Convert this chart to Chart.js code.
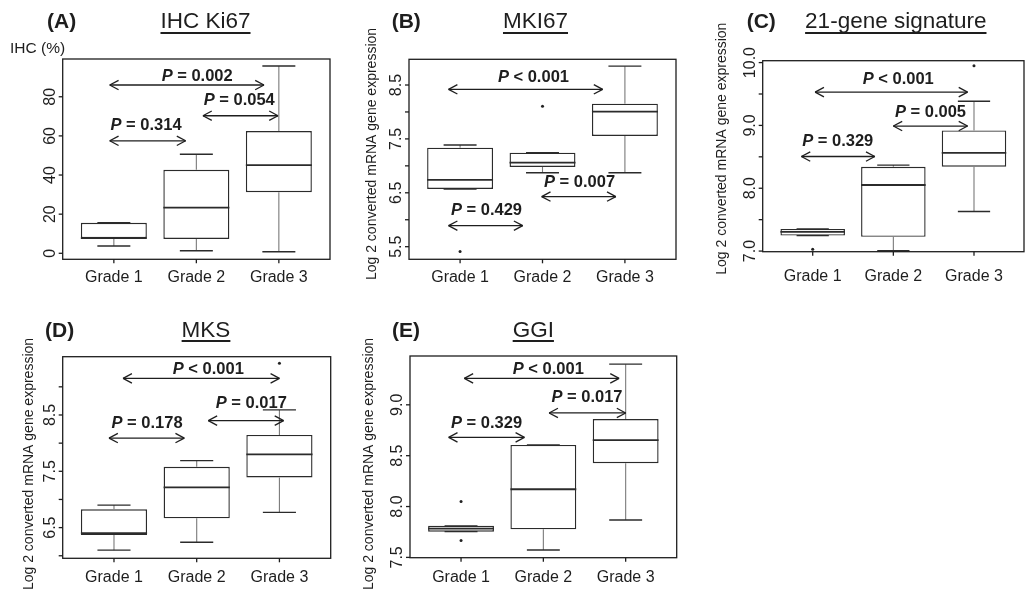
<!DOCTYPE html>
<html>
<head>
<meta charset="utf-8">
<script src="https://cdn.jsdelivr.net/npm/chart.js@4/dist/chart.umd.min.js"></script>
<style>
  html, body { margin: 0; padding: 0; background: #fff; width: 1028px; height: 591px; overflow: hidden; }
  canvas { position: absolute; }
</style>
</head>
<body>
<canvas id="panelA"></canvas>
<canvas id="panelB"></canvas>
<canvas id="panelC"></canvas>
<canvas id="panelD"></canvas>
<canvas id="panelE"></canvas>
<script>
// categories
const gradeLabels = ['Grade 1', 'Grade 2', 'Grade 3'];
const gradePos = [1, 2, 3];

// (A) IHC Ki67 (%)
const ki67Min = [3.7, 1.3, 0.8];
const ki67Q1  = [7.8, 7.3, 31.2];
const ki67Med = [7.8, 23.3, 45.1];
const ki67Q3  = [15.6, 42.7, 62.5];
const ki67Max = [15.6, 50.6, 95.7];
const ki67OutX = [];
const ki67OutY = [];
const ki67Ticks = [0, 20, 40, 60, 80];
const ki67TickText = ['0', '20', '40', '60', '80'];
const ki67P = ['= 0.002', '= 0.054', '= 0.314'];

// (B) MKI67
const mki67Min = [6.57, 6.873, 6.873];
const mki67Q1  = [6.57, 6.98, 7.554];
const mki67Med = [6.74, 7.06, 8.005];
const mki67Q3  = [7.337, 7.244, 8.153];
const mki67Max = [7.387, 7.244, 8.85];
const mki67OutX = [1, 2];
const mki67OutY = [5.41, 8.105];
const mki67Ticks = [5.5, 6, 6.5, 7, 7.5, 8, 8.5];
const mki67TickText = ['5.5', '', '6.5', '', '7.5', '', '8.5'];
const mki67P = ['< 0.001', '= 0.007', '= 0.429'];

// (C) 21-gene signature
const sigMin = [7.246, 7.005, 7.63];
const sigQ1  = [7.246, 7.226, 8.342];
const sigMed = [7.305, 8.052, 8.562];
const sigQ3  = [7.352, 8.342, 8.92];
const sigMax = [7.352, 8.368, 9.384];
const sigOutX = [1, 3];
const sigOutY = [7.03, 9.948];
const sigTicks = [7, 7.5, 8, 8.5, 9, 9.5, 10];
const sigTickText = ['7.0', '', '8.0', '', '9.0', '', '10.0'];
const sigP = ['< 0.001', '= 0.005', '= 0.329'];

// (D) MKS
const mksMin = [6.10, 6.24, 6.77];
const mksQ1  = [6.37, 6.665, 7.39];
const mksMed = [6.40, 7.215, 7.80];
const mksQ3  = [6.825, 7.58, 8.145];
const mksMax = [6.90, 7.69, 8.59];
const mksOutX = [3];
const mksOutY = [9.42];
const mksTicks = [6, 6.5, 7, 7.5, 8, 8.5, 9];
const mksTickText = ['', '6.5', '', '7.5', '', '8.5', ''];
const mksP = ['< 0.001', '= 0.017', '= 0.178'];

// (E) GGI
const ggiMin = [7.753, 7.573, 7.868];
const ggiQ1  = [7.753, 7.776, 8.426];
const ggiMed = [7.783, 8.17, 8.653];
const ggiQ3  = [7.81, 8.606, 8.86];
const ggiMax = [7.81, 8.606, 9.40];
const ggiOutX = [1, 1];
const ggiOutY = [8.05, 7.665];
const ggiTicks = [7.5, 8, 8.5, 9];
const ggiTickText = ['7.5', '8.0', '8.5', '9.0'];
const ggiP = ['< 0.001', '= 0.017', '= 0.329'];

const FONT = '"Liberation Sans", Arial, sans-serif';
const INK = '#1e1e1e';

// layout of each panel: canvas box and plot frame in page pixels, comparison arrows in data units
const panels = {
  panelA: {
    min: ki67Min, q1: ki67Q1, med: ki67Med, q3: ki67Q3, max: ki67Max, outX: ki67OutX, outY: ki67OutY,
    ticks: ki67Ticks, tickText: ki67TickText, p: ki67P,
    yMin: -3.07, yMax: 99.3,
    box: [0, 0, 345, 296], frame: [62.7, 59, 330, 259.3], xLabelGap: 23,
    arrows: [[0.95, 2.82, 86.0], [2.08, 2.99, 70.3], [0.95, 1.87, 57.5]],
    pPos: [[2.01, 90.2], [2.52, 78.3], [1.39, 65.5]],
    tag: '(A)', tagX: 47, title: 'IHC Ki67', titleX: 205.5, titleY: 28, lineY: 33,
    yTitle: 'IHC (%)', yTitleFlat: true, yTitleX: 10, yTitleY: 49
  },
  panelB: {
    min: mki67Min, q1: mki67Q1, med: mki67Med, q3: mki67Q3, max: mki67Max, outX: mki67OutX, outY: mki67OutY,
    ticks: mki67Ticks, tickText: mki67TickText, p: mki67P,
    yMin: 5.266, yMax: 8.977,
    box: [345, 0, 345, 296], frame: [409, 59.3, 676, 259.3], xLabelGap: 23,
    arrows: [[0.86, 2.73, 8.42], [1.99, 2.89, 6.43], [0.86, 1.76, 5.89]],
    pPos: [[1.89, 8.64], [2.45, 6.69], [1.32, 6.18]],
    tag: '(B)', tagX: 391.7, title: 'MKI67', titleX: 535.5, titleY: 28, lineY: 33,
    yTitle: 'Log 2 converted mRNA gene expression', yTitleX: 372.5, yTitleY: 154
  },
  panelC: {
    min: sigMin, q1: sigQ1, med: sigMed, q3: sigQ3, max: sigMax, outX: sigOutX, outY: sigOutY,
    ticks: sigTicks, tickText: sigTickText, p: sigP,
    yMin: 6.99, yMax: 10.03,
    box: [690, 0, 338, 296], frame: [762.7, 60.7, 1026.5, 251.7], xLabelGap: 29,
    arrows: [[1.03, 2.92, 9.53], [2.0, 2.92, 8.99], [0.86, 1.77, 8.505]],
    pPos: [[2.06, 9.73], [2.46, 9.2], [1.31, 8.75]],
    tag: '(C)', tagX: 746.7, title: '21-gene signature', titleX: 895.8, titleY: 28, lineY: 33,
    yTitle: 'Log 2 converted mRNA gene expression', yTitleX: 722.5, yTitleY: 148.7
  },
  panelD: {
    min: mksMin, q1: mksQ1, med: mksMed, q3: mksQ3, max: mksMax, outX: mksOutX, outY: mksOutY,
    ticks: mksTicks, tickText: mksTickText, p: mksP,
    yMin: 5.955, yMax: 9.535,
    box: [0, 296, 345, 295], frame: [62.7, 356.7, 330.7, 558.3], xLabelGap: 23.5,
    arrows: [[1.11, 3.0, 9.15], [2.14, 3.05, 8.40], [0.94, 1.85, 8.09]],
    pPos: [[2.14, 9.30], [2.66, 8.71], [1.40, 8.35]],
    tag: '(D)', tagX: 45, title: 'MKS', titleX: 206, titleY: 337, lineY: 341,
    yTitle: 'Log 2 converted mRNA gene expression', yTitleX: 29, yTitleY: 464
  },
  panelE: {
    min: ggiMin, q1: ggiQ1, med: ggiMed, q3: ggiQ3, max: ggiMax, outX: ggiOutX, outY: ggiOutY,
    ticks: ggiTicks, tickText: ggiTickText, p: ggiP,
    yMin: 7.497, yMax: 9.48,
    box: [345, 296, 345, 295], frame: [410, 356, 676.7, 557.7], xLabelGap: 24,
    arrows: [[1.04, 2.92, 9.26], [2.07, 3.0, 8.92], [0.85, 1.77, 8.68]],
    pPos: [[2.06, 9.345], [2.53, 9.07], [1.31, 8.82]],
    tag: '(E)', tagX: 392, title: 'GGI', titleX: 533.3, titleY: 337, lineY: 341,
    yTitle: 'Log 2 converted mRNA gene expression', yTitleX: 369.5, yTitleY: 464
  }
};

// whiskers, medians, frame, axes, arrows and titles
const boxDecor = {
  id: 'boxDecor',
  afterDraw(chart) {
    const p = panels[chart.canvas.id];
    const ctx = chart.ctx;
    const a = chart.chartArea;
    const X = v => chart.scales.x.getPixelForValue(v);
    const Y = v => chart.scales.y.getPixelForValue(v);
    const seg = (x1, y1, x2, y2) => { ctx.beginPath(); ctx.moveTo(x1, y1); ctx.lineTo(x2, y2); ctx.stroke(); };
    ctx.save();

    gradePos.forEach((g, i) => {
      ctx.strokeStyle = '#7a7a7a';
      ctx.lineWidth = 1.1;
      if (p.max[i] > p.q3[i]) seg(X(g), Y(p.q3[i]), X(g), Y(p.max[i]));
      if (p.min[i] < p.q1[i]) seg(X(g), Y(p.q1[i]), X(g), Y(p.min[i]));
      ctx.strokeStyle = '#2b2b2b';
      ctx.lineWidth = 1.4;
      seg(X(g - 0.2), Y(p.max[i]), X(g + 0.2), Y(p.max[i]));
      seg(X(g - 0.2), Y(p.min[i]), X(g + 0.2), Y(p.min[i]));
      ctx.lineWidth = 1.8;
      seg(X(g - 0.4), Y(p.med[i]), X(g + 0.4), Y(p.med[i]));
    });

    // frame
    ctx.strokeStyle = INK;
    ctx.lineWidth = 1.3;
    ctx.strokeRect(a.left, a.top, a.right - a.left, a.bottom - a.top);

    // axes
    ctx.fillStyle = INK;
    ctx.font = '16px ' + FONT;
    p.ticks.forEach((v, i) => {
      seg(a.left - 4, Y(v), a.left, Y(v));
      if (!p.tickText[i]) return;
      ctx.save();
      ctx.translate(a.left - 12.5, Y(v));
      ctx.rotate(-Math.PI / 2);
      ctx.textAlign = 'center';
      ctx.textBaseline = 'middle';
      ctx.fillText(p.tickText[i], 0, 0);
      ctx.restore();
    });
    ctx.textAlign = 'center';
    ctx.textBaseline = 'alphabetic';
    gradePos.forEach((g, i) => {
      seg(X(g), a.bottom, X(g), a.bottom + 4);
      ctx.fillText(gradeLabels[i], X(g), a.bottom + p.xLabelGap);
    });

    // comparison arrows
    ctx.lineWidth = 1.3;
    const head = 10, ang = 28 * Math.PI / 180;
    p.arrows.forEach(([x1, x2, yv]) => {
      const l = X(x1), r = X(x2), y = Y(yv);
      seg(l, y, r, y);
      seg(l, y, l + head * Math.cos(ang), y - head * Math.sin(ang));
      seg(l, y, l + head * Math.cos(ang), y + head * Math.sin(ang));
      seg(r, y, r - head * Math.cos(ang), y - head * Math.sin(ang));
      seg(r, y, r - head * Math.cos(ang), y + head * Math.sin(ang));
    });
    ctx.textBaseline = 'middle';
    ctx.textAlign = 'left';
    p.p.forEach((t, i) => {
      const [xv, yv] = p.pPos[i];
      ctx.font = 'italic bold 16.5px ' + FONT;
      const wP = ctx.measureText('P').width;
      ctx.font = 'bold 16.5px ' + FONT;
      const wR = ctx.measureText(' ' + t).width;
      const x0 = X(xv) - (wP + wR) / 2;
      ctx.font = 'italic bold 16.5px ' + FONT;
      ctx.fillText('P', x0, Y(yv));
      ctx.font = 'bold 16.5px ' + FONT;
      ctx.fillText(' ' + t, x0 + wP, Y(yv));
    });

    // titles in page coordinates
    ctx.translate(-p.box[0], -p.box[1]);
    ctx.textBaseline = 'alphabetic';
    ctx.textAlign = 'left';
    ctx.font = 'bold 21px ' + FONT;
    ctx.fillText(p.tag, p.tagX, p.titleY);
    ctx.font = '22.5px ' + FONT;
    const tw = ctx.measureText(p.title).width;
    ctx.fillText(p.title, p.titleX - tw / 2, p.titleY);
    ctx.lineWidth = 2;
    seg(p.titleX - tw / 2, p.lineY, p.titleX + tw / 2, p.lineY);

    if (p.yTitleFlat) {
      ctx.font = '15.5px ' + FONT;
      ctx.textBaseline = 'middle';
      ctx.fillText(p.yTitle, p.yTitleX, p.yTitleY);
    } else {
      ctx.font = '14px ' + FONT;
      ctx.translate(p.yTitleX, p.yTitleY);
      ctx.rotate(-Math.PI / 2);
      ctx.textAlign = 'center';
      ctx.textBaseline = 'middle';
      ctx.fillText(p.yTitle, 0, 0);
    }
    ctx.restore();
  }
};

function makePanel(id) {
  const p = panels[id];
  const cv = document.getElementById(id);
  cv.width = p.box[2];
  cv.height = p.box[3];
  cv.style.left = p.box[0] + 'px';
  cv.style.top = p.box[1] + 'px';
  const pad = {
    left: p.frame[0] - p.box[0],
    top: p.frame[1] - p.box[1],
    right: p.box[0] + p.box[2] - p.frame[2],
    bottom: p.box[1] + p.box[3] - p.frame[3]
  };
  new Chart(cv, {
    type: 'bar',
    data: {
      datasets: [{
        type: 'bar',
        data: gradePos.map((g, i) => ({ x: g, y: [p.q1[i], p.q3[i]] })),
        backgroundColor: '#ffffff',
        borderColor: '#2b2b2b',
        borderWidth: 1.4,
        borderSkipped: false,
        barPercentage: 0.8,
        categoryPercentage: 1
      }, {
        type: 'scatter',
        data: p.outX.map((x, i) => ({ x: x, y: p.outY[i] })),
        pointRadius: 1.5,
        pointBackgroundColor: '#222',
        pointBorderWidth: 0
      }]
    },
    options: {
      responsive: false,
      animation: false,
      events: [],
      layout: { padding: pad },
      plugins: { legend: { display: false }, tooltip: { enabled: false } },
      scales: {
        x: {
          type: 'linear', min: 0.38, max: 3.62, offset: false, display: false,
          afterBuildTicks: s => { s.ticks = gradePos.map(v => ({ value: v })); }
        },
        y: { type: 'linear', min: p.yMin, max: p.yMax, display: false }
      }
    },
    plugins: [boxDecor]
  });
}

['panelA', 'panelB', 'panelC', 'panelD', 'panelE'].forEach(makePanel);
</script>
</body>
</html>
